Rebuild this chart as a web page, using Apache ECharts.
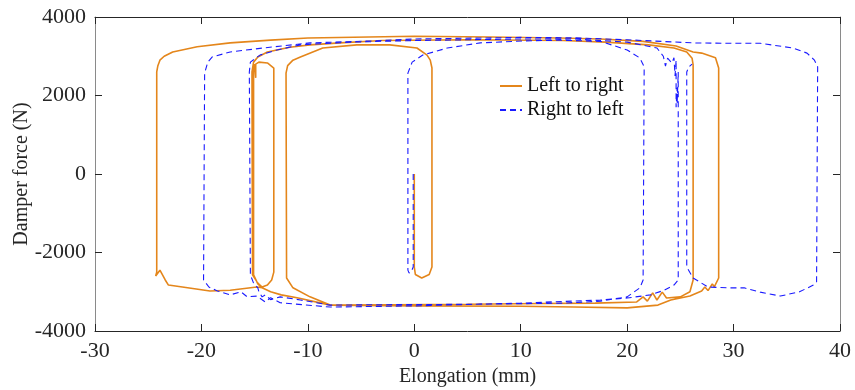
<!DOCTYPE html>
<html>
<head>
<meta charset="utf-8">
<script src="https://cdn.jsdelivr.net/npm/echarts@6/dist/echarts.min.js"></script>
<style>
html,body{margin:0;padding:0;background:#fff;}
#chart{width:855px;height:390px;}
</style>
</head>
<body>
<div id="chart"></div>
<script>
// Axis ticks
const xTicks = [-30, -20, -10, 0, 10, 20, 30, 40];
const yTicks = [-4000, -2000, 0, 2000, 4000];
const seriesNames = ['Left to right', 'Right to left'];

// Left to right: [elongation mm, force N]
const leftToRight = [
  [0, 0], [0, -2370], [0.1, -2560], [0.7, -2650], [1.4, -2560], [1.66, -2370],
  [1.66, 2700], [1.5, 2900], [1.2, 3030], [0.25, 3210], [-2.3, 3290], [-5.4, 3290], [-8.6, 3210],
  [-10.7, 2980], [-11.4, 2900], [-11.9, 2760], [-12.05, 2570], [-12.0, -2650],
  [-11.4, -2900], [-9.8, -3130], [-7.9, -3340], [-2, -3330], [5, -3320], [12, -3300],
  [17, -3290], [20.9, -3260], [21.5, -3130], [21.9, -3240], [22.4, -3030], [22.8, -3210],
  [23.3, -3010], [23.7, -3160], [25.0, -3130], [25.9, -3000], [26.2, -2700],
  [26.2, 2780], [26.1, 2950], [25.6, 3110], [24.4, 3210], [22.0, 3290], [18.0, 3360],
  [14.0, 3400], [5.0, 3420], [-3, 3400], [-7, 3340], [-9.8, 3290], [-11.7, 3230],
  [-13.8, 3110], [-14.7, 2980], [-15.1, 2850], [-15.25, 2600], [-15.2, -2570],
  [-14.7, -2780], [-14.3, -2880], [-13.8, -2830], [-13.4, -2700], [-13.2, -2500],
  [-13.2, 2700], [-13.8, 2830], [-14.6, 2850], [-14.9, 2800], [-14.9, 2450],
  [-15.0, 2800], [-15.1, 2700], [-15.1, -2570], [-14.7, -2800], [-14.3, -2900],
  [-13.5, -3000], [-12.5, -3080], [-10.9, -3160], [-7.9, -3340], [0, -3360],
  [10, -3370], [15, -3390], [20, -3410], [22.9, -3340], [24.1, -3210], [25.9, -3110],
  [27.0, -2980], [27.3, -2880], [27.6, -2970], [28.0, -2800], [28.2, -2870],
  [28.6, -2650], [28.6, 2700], [28.3, 2960], [27.0, 3080], [26.2, 3110], [26.1, 3160],
  [24.6, 3260], [21.5, 3380], [17.5, 3440], [13.7, 3465], [7, 3490], [0, 3510],
  [-10, 3465], [-13.5, 3410], [-17.3, 3340], [-20.4, 3240], [-22.7, 3110],
  [-23.5, 3000], [-23.9, 2900], [-24.1, 2750], [-24.2, 2600], [-24.2, -2500], [-24.3, -2600], [-23.9, -2450],
  [-23.4, -2700], [-23.1, -2830], [-21.3, -2900], [-19.2, -2980], [-17.3, -2960],
  [-14.8, -2880], [-14.3, -2900]
];

// Right to left: [elongation mm, force N]
const rightToLeft = [
  [-0.1, 0], [-0.1, -2370], [-0.3, -2500], [-0.5, -2520], [-0.6, -2450],
  [-0.6, 2570], [-0.2, 2850], [0.8, 3030], [3.1, 3210], [6.2, 3340], [10.2, 3390],
  [13.7, 3410], [17.5, 3380], [20.0, 3160], [21.2, 2955], [21.6, 2730],
  [21.5, -2700], [21.2, -2900], [20.0, -3130], [17.5, -3240], [14.0, -3290],
  [5, -3320], [-3, -3330], [-7.9, -3340], [-10.7, -3210], [-12.6, -3130],
  [-13.5, -3200], [-14.0, -3080], [-14.3, -3130], [-14.6, -3000], [-14.7, -2900],
  [-15.1, -2780], [-15.4, -2570], [-15.5, 2600], [-15.4, 2850], [-14.5, 3030],
  [-12.9, 3160], [-10.7, 3290], [-6, 3360], [0, 3400], [10, 3440], [15, 3440],
  [20, 3360], [22.8, 3210], [23.4, 3000], [23.6, 2750], [23.8, 2950], [24.2, 2830],
  [24.4, 2960], [24.5, 2500], [24.6, 2900], [24.6, 1700], [24.7, 2200], [24.7, 1800],
  [24.8, 2600], [24.8, -2700], [24.4, -2830], [23.5, -2960], [22.2, -3080],
  [20, -3160], [17.5, -3210], [10, -3290], [0, -3360], [-7.9, -3390],
  [-12.6, -3280], [-13.5, -3150], [-14.0, -3260], [-14.8, -3110], [-15.7, -3130],
  [-16.3, -3000], [-17.3, -3080], [-18.5, -2980], [-19.3, -2880], [-19.8, -2700],
  [-19.7, 2570], [-19.4, 2850], [-19.0, 2980], [-17.3, 3110], [-14.2, 3210],
  [-9.8, 3340], [-4, 3390], [0, 3440], [10, 3480], [15, 3470], [20, 3420],
  [26.2, 3340], [30, 3330], [32.5, 3330], [35.6, 3210], [36.9, 3080], [37.6, 2900],
  [37.9, 2730], [37.8, -2750], [37.5, -2830], [36.2, -3000], [34.4, -3110],
  [32.5, -3010], [31.0, -2900], [29.5, -2900], [27.6, -2880], [26.2, -2650],
  [25.6, -2370], [25.6, 2600], [25.8, 2730], [26.1, 2800]
];

const FONT = '"Liberation Serif", "Times New Roman", serif';
const TXT = '#262626';

const chart = echarts.init(document.getElementById('chart'), null, {renderer: 'canvas'});

function xAx(pos, show) {
  return {
    type: 'value', position: pos, min: xTicks[0], max: xTicks[xTicks.length - 1], interval: 10,
    name: show ? 'Elongation (mm)' : '', nameLocation: 'middle', nameGap: 36, nameMoveOverlap: false,
    nameTextStyle: {fontFamily: FONT, fontSize: 20, color: TXT},
    axisLine: {show: true, onZero: false, lineStyle: {color: TXT, width: 1}},
    axisTick: {show: true, inside: true, length: 7, lineStyle: {color: TXT}},
    axisLabel: {show: show, fontFamily: FONT, fontSize: 22, color: TXT, margin: 9,
                formatter: v => String(v)},
    splitLine: {show: false}
  };
}
function yAx(pos, show) {
  return {
    type: 'value', position: pos, min: yTicks[0], max: yTicks[yTicks.length - 1], interval: 2000,
    name: show ? 'Damper force (N)' : '', nameLocation: 'middle', nameGap: 63, nameMoveOverlap: false,
    nameTextStyle: {fontFamily: FONT, fontSize: 20, color: TXT},
    axisLine: {show: true, onZero: false, lineStyle: {color: '#8a8a8a', width: 1}},
    axisTick: {show: true, inside: true, length: 7, lineStyle: {color: TXT}},
    axisLabel: {show: show, fontFamily: FONT, fontSize: 22, color: TXT, margin: 9,
                formatter: v => String(v)},
    splitLine: {show: false}
  };
}

chart.setOption({
  animation: false,
  backgroundColor: '#ffffff',
  grid: {left: 95, right: 15, top: 17, bottom: 59, containLabel: false, outerBoundsMode: 'none'},
  xAxis: [xAx('bottom', true), xAx('top', false)],
  yAxis: [yAx('left', true), yAx('right', false)],
  legend: {
    orient: 'vertical', left: 494, top: 71, itemWidth: 22, itemHeight: 14, itemGap: 4,
    textStyle: {fontFamily: FONT, fontSize: 20, color: '#111'},
    itemStyle: {color: 'rgba(0,0,0,0)', borderWidth: 0, opacity: 0},
    data: seriesNames
  },
  series: [
    {
      name: seriesNames[0], type: 'line', data: leftToRight, symbol: 'none', smooth: false,
      xAxisIndex: 0, yAxisIndex: 0,
      lineStyle: {color: '#E4861B', width: 1.6}, itemStyle: {color: '#E4861B'}
    },
    {
      name: seriesNames[1], type: 'line', data: rightToLeft, symbol: 'none', smooth: false,
      xAxisIndex: 0, yAxisIndex: 0,
      lineStyle: {color: '#1a1aff', width: 1.1, type: [6, 4]}, itemStyle: {color: '#1a1aff'}
    }
  ]
});
</script>
</body>
</html>
